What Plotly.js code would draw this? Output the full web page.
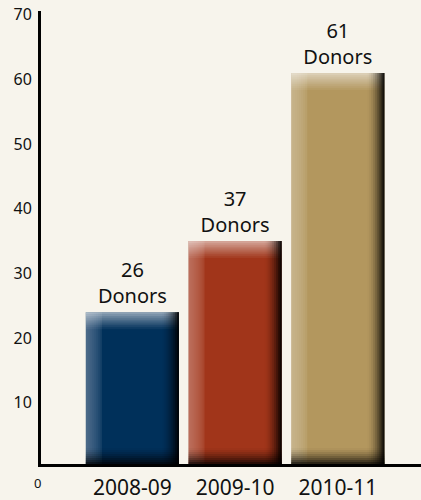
<!DOCTYPE html>
<html>
<head>
<meta charset="utf-8">
<script src="https://cdn.plot.ly/plotly-3.0.1.min.js"></script>
<style>html,body{margin:0;padding:0;background:#f7f4ec;}#chart{width:421px;height:500px;}</style>
</head>
<body>
<div id="chart"></div>
<script>
// ---- data ----
var seasons = ["2008-09", "2009-10", "2010-11"];
var barHeights = [24, 35, 61];
var donorCounts = [26, 37, 61];
var barColors = ["#00305a", "#a1351a", "#b3975e"];
var yTickValues = [10, 20, 30, 40, 50, 60, 70];

// ---- styling helpers ----
var W = 0.907;            // bar width (category units)
var pxX = 102.7;          // px per category unit (approx)
var pxY = 6.46;           // px per y unit (approx)
var Y0 = 0.5;             // visible bottom of y range
function ux(px){ return px / pxX; }
function uy(px){ return px / pxY; }

var traces = [];
traces.push({
  type: "bar",
  x: seasons,
  y: barHeights,
  width: W,
  marker: { color: barColors, line: { width: 0 } },
  text: donorCounts.map(function(d){ return d + "<br>Donors"; }),
  textposition: "outside",
  textfont: { family: "Noto Sans, sans-serif", size: 20, color: "#111" },
  cliponaxis: false,
  hoverinfo: "skip"
});

// gradient band built from overlapping translucent strips
function band(side, len, steps, edge, rgb, power){
  var prev = 0;
  for (var j = 1; j <= steps; j++) {
    var ext = len * (steps - j + 1) / steps;
    var t = edge * Math.pow(j / steps, power);
    var a = 1 - (1 - t) / (1 - prev);
    prev = t;
    var col = "rgba(" + rgb + "," + a.toFixed(4) + ")";
    var tr = { type: "bar", x: seasons, marker: { color: col, line: { width: 0 } },
               hoverinfo: "skip", showlegend: false };
    if (side === "left" || side === "right") {
      tr.y = barHeights;
      tr.width = ux(ext);
      tr.offset = side === "left" ? -W/2 : W/2 - ux(ext);
    } else if (side === "top") {
      tr.y = barHeights.map(function(){ return uy(ext); });
      tr.base = barHeights.map(function(v){ return v - uy(ext); });
      tr.width = W;
    } else {
      tr.y = barHeights.map(function(){ return uy(ext); });
      tr.base = barHeights.map(function(){ return Y0; });
      tr.width = W;
    }
    traces.push(tr);
  }
}
band("left", 16, 8, 0.30, "255,255,255", 0.6);
band("top", 17, 9, 0.55, "255,255,255", 1.1);
band("right", 17, 9, 0.88, "0,0,0", 1.8);
band("bottom", 16, 8, 0.75, "0,0,0", 1.6);

var layout = {
  width: 421, height: 500,
  margin: { l: 41, r: 0, t: 11, b: 36, pad: 0 },
  paper_bgcolor: "#f7f4ec",
  plot_bgcolor: "#f7f4ec",
  barmode: "overlay",
  showlegend: false,
  xaxis: {
    type: "category",
    range: [-0.89, 2.81],
    showline: true, linecolor: "#000", linewidth: 3,
    showgrid: false, zeroline: false, ticks: "",
    ticklabelstandoff: 3,
    tickfont: { family: "Noto Sans, sans-serif", size: 21, color: "#111" },
    fixedrange: true
  },
  yaxis: {
    range: [Y0, 70.6],
    tickvals: yTickValues,
    ticktext: yTickValues.map(String),
    showline: true, linecolor: "#000", linewidth: 3,
    showgrid: false, zeroline: false, ticks: "",
    ticklabelstandoff: 3,
    tickfont: { family: "Noto Sans, sans-serif", size: 16, color: "#111" },
    fixedrange: true
  },
  annotations: [{
    xref: "paper", yref: "y", x: 0, y: Y0,
    text: "0", showarrow: false, xanchor: "right", yanchor: "top",
    xshift: 2, yshift: -8,
    font: { family: "Noto Sans, sans-serif", size: 13, color: "#111" }
  }]
};

Plotly.newPlot("chart", traces, layout, { displayModeBar: false, staticPlot: true });
</script>
</body>
</html>
